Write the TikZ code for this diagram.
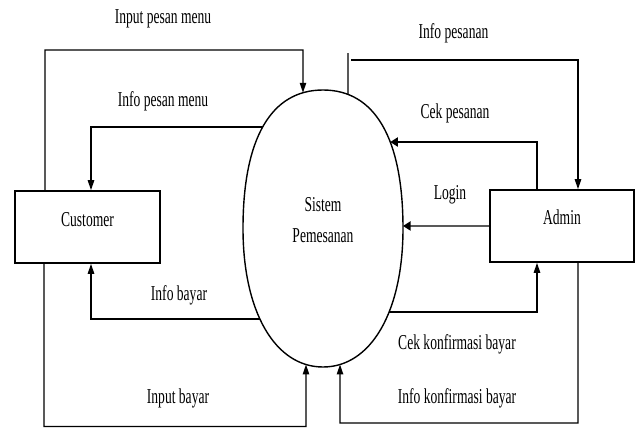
\documentclass[tikz,border=0pt]{standalone}
\usepackage{fontspec}
\setmainfont{Liberation Serif}[FakeStretch=0.64]
\usetikzlibrary{arrows.meta,intersections}

\begin{document}
\begin{tikzpicture}[x=0.5pt,y=-0.5pt,
  every node/.style={font=\fontsize{10.6}{15.5}\selectfont, inner sep=0pt},
  line/.style={line width=0.7pt, black},
  vflow/.style={line, -{Triangle[length=5pt,width=3.2pt]}},
  hflow/.style={line, -{Triangle[length=3.8pt,width=4.6pt]}},
  entity/.style={draw, line width=0.8pt, minimum width=72.5pt, minimum height=36pt, text height=7pt},
  lbl/.style={anchor=base}]
\useasboundingbox (0,0) rectangle (638,428);

% external entities
\node[entity, text depth=7.5pt] (cust) at (87.5,227) {Customer};
\node[entity, minimum width=72pt, text depth=8.5pt] (adm) at (562,226) {Admin};

% the process bubble
\draw[line, name path=outline]
  (403,228.5) .. controls (403,138.5) and (375,90) .. (323,90)
  .. controls (271,90) and (243,138.5) .. (243,228.5)
  .. controls (243,311.6) and (275,367) .. (323,367)
  .. controls (371,367) and (403,311.6) .. (403,228.5) -- cycle;
\node[align=center] (sys) at (323,220.5) {Sistem\\Pemesanan};

% where the flows meet the bubble
\path[name path=g1] (303,40) -- (303,228);
\path[name path=g2] (200,127) -- (323,127);
\path[name path=g3] (348,40) -- (348,228);
\path[name path=g4] (323,142) -- (480,142);
\path[name path=g5] (323,226) -- (480,226);
\path[name path=g6] (323,312) -- (480,312);
\path[name path=g7] (340,228) -- (340,420);
\path[name path=g8] (200,319) -- (323,319);
\path[name path=g9] (306,228) -- (306,420);
\path[name intersections={of=outline and g1, by=pIn1}];
\path[name intersections={of=outline and g2, by=pOut1}];
\path[name intersections={of=outline and g3, by=pOut2}];
\path[name intersections={of=outline and g4, by=pIn2}];
\path[name intersections={of=outline and g5, by=pIn3}];
\path[name intersections={of=outline and g6, by=pOut3}];
\path[name intersections={of=outline and g7, by=pIn4}];
\path[name intersections={of=outline and g8, by=pOut4}];
\path[name intersections={of=outline and g9, by=pIn5}];

% data flows
\draw[vflow] (cust.north -| 45,0) |- (303,50) -- (pIn1);
\draw[vflow] (pOut1) -| (cust.north -| 91,0);
\coordinate (tick) at (348,53);
\coordinate (ipStart) at (351,60);
\draw[line] (pOut2) -- (tick);
\draw[vflow] (ipStart) -| (adm.north -| 578,0);
\draw[hflow] (adm.north -| 537,0) |- (pIn2);
\draw[hflow] (adm.west) -- (pIn3);
\draw[vflow] (pOut3) -| (adm.south -| 537,0);
\draw[vflow] (adm.south -| 578,0) |- (340,423) -- (pIn4);
\draw[vflow] (pOut4) -| (cust.south -| 91,0);
\draw[vflow] (cust.south -| 44,0) |- (306,426.5) -- (pIn5);

% flow labels
\node[lbl] (l1) at (163,24) {Input pesan menu};
\node[lbl] (l2) at (163,106) {Info pesan menu};
\node[lbl] (l3) at (453.5,39) {Info pesanan};
\node[lbl] (l4) at (455,118) {Cek pesanan};
\node[lbl] (l5) at (450,199) {Login};
\node[lbl] (l6) at (457,349) {Cek konfirmasi bayar};
\node[lbl] (l7) at (457,403) {Info konfirmasi bayar};
\node[lbl] (l8) at (179,300) {Info bayar};
\node[lbl] (l9) at (178,403) {Input bayar};
\end{tikzpicture}
\end{document}
